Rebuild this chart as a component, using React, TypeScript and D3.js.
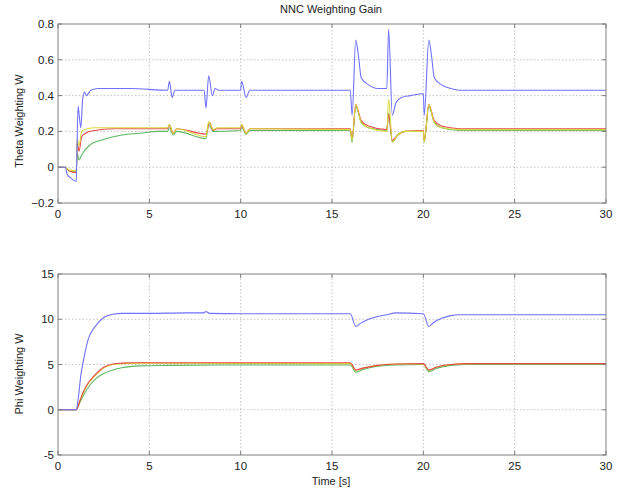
import React from "react";
import * as d3 from "d3";

type P = [number, number];

const xTicks = [0, 5, 10, 15, 20, 25, 30];
const thetaTicks = [-0.2, 0, 0.2, 0.4, 0.6, 0.8];
const phiTicks = [-5, 0, 5, 10, 15];

const thetaBlue: P[] = [
  [0, 0], [0.4, 0], [0.5, -0.04], [0.7, -0.06], [1.0, -0.08], [1.02, 0.0], [1.1, 0.34], [1.15, 0.3], [1.25, 0.22],
  [1.35, 0.38], [1.45, 0.42], [1.55, 0.4], [1.8, 0.43], [2.2, 0.44], [4, 0.44], [6.0, 0.43], [6.1, 0.48],
  [6.25, 0.39], [6.4, 0.43], [8.0, 0.43], [8.1, 0.33], [8.25, 0.51], [8.45, 0.4], [8.6, 0.44], [8.8, 0.43],
  [10.0, 0.43], [10.05, 0.48], [10.3, 0.39], [10.5, 0.43], [16.0, 0.43], [16.1, 0.29], [16.3, 0.71],
  [16.45, 0.62], [16.6, 0.5], [17.0, 0.46], [17.5, 0.44], [18.0, 0.44], [18.1, 0.77], [18.3, 0.29],
  [18.5, 0.36], [18.8, 0.39], [19.3, 0.4], [20.0, 0.41], [20.05, 0.29], [20.3, 0.71], [20.45, 0.62],
  [20.6, 0.5], [21.0, 0.46], [21.5, 0.44], [22.0, 0.43], [30, 0.43]
];
const thetaRed: P[] = [
  [0, 0], [0.4, 0], [0.6, -0.02], [1.0, -0.03], [1.05, 0.14], [1.15, 0.09], [1.3, 0.17], [1.5, 0.19],
  [2.0, 0.205], [3.0, 0.215], [6.0, 0.215], [6.1, 0.235], [6.3, 0.19], [6.5, 0.215], [8.1, 0.185],
  [8.3, 0.25], [8.5, 0.205], [8.7, 0.215], [10.0, 0.215], [10.05, 0.235], [10.3, 0.19], [10.5, 0.215],
  [16.0, 0.215], [16.1, 0.16], [16.3, 0.35], [16.6, 0.26], [17.0, 0.23], [18.0, 0.21], [18.1, 0.3],
  [18.3, 0.15], [18.6, 0.18], [19.0, 0.2], [20.0, 0.205], [20.05, 0.15], [20.3, 0.35], [20.6, 0.26],
  [21.0, 0.23], [21.5, 0.22], [22.0, 0.215], [30, 0.215]
];
const thetaYellow: P[] = [
  [0, 0], [0.4, 0], [0.6, -0.015], [1.0, -0.02], [1.05, 0.16], [1.15, 0.12], [1.3, 0.2], [1.6, 0.215],
  [2.0, 0.22], [6.0, 0.22], [6.1, 0.24], [6.3, 0.19], [6.5, 0.215], [8.1, 0.17], [8.25, 0.255],
  [8.5, 0.21], [8.7, 0.22], [10.0, 0.22], [10.05, 0.24], [10.3, 0.19], [10.5, 0.215], [16.0, 0.21],
  [16.1, 0.15], [16.3, 0.35], [16.6, 0.25], [17.0, 0.22], [18.0, 0.2], [18.1, 0.38], [18.3, 0.14],
  [18.6, 0.18], [19.0, 0.2], [20.0, 0.2], [20.05, 0.14], [20.3, 0.35], [20.6, 0.25], [21.0, 0.22],
  [22.0, 0.21], [30, 0.21]
];
const thetaGreen: P[] = [
  [0, 0], [0.4, 0], [0.6, -0.02], [1.0, -0.025], [1.05, 0.08], [1.15, 0.04], [1.3, 0.07], [1.7, 0.12],
  [2.5, 0.155], [3.5, 0.18], [4.5, 0.19], [5.5, 0.2], [6.0, 0.2], [6.1, 0.22], [6.3, 0.18], [6.5, 0.2],
  [8.1, 0.16], [8.25, 0.24], [8.5, 0.2], [10.0, 0.205], [10.05, 0.225], [10.3, 0.185], [10.5, 0.205],
  [16.0, 0.205], [16.1, 0.14], [16.3, 0.34], [16.6, 0.25], [17.0, 0.22], [18.0, 0.205], [18.1, 0.3],
  [18.3, 0.14], [18.6, 0.18], [19.0, 0.2], [20.0, 0.2], [20.05, 0.14], [20.3, 0.34], [20.6, 0.25],
  [21.0, 0.22], [22.0, 0.205], [30, 0.205]
];

const phiBlue: P[] = [
  [0, 0], [1.0, 0], [1.1, 1.1], [1.25, 3.8], [1.37, 5.2], [1.5, 6.5], [1.64, 7.7], [2.0, 9.1], [2.5, 10.2],
  [3.0, 10.55], [3.5, 10.65], [5, 10.65], [7, 10.7], [8.0, 10.7], [8.1, 10.85], [8.3, 10.65], [10, 10.6],
  [16.0, 10.6], [16.3, 9.2], [16.6, 9.6], [17.0, 10.0], [17.5, 10.3], [18.0, 10.5], [18.5, 10.7],
  [20.0, 10.6], [20.3, 9.2], [20.6, 9.7], [21.0, 10.1], [21.5, 10.4], [22.0, 10.5], [30, 10.5]
];
const phiRed: P[] = [
  [0, 0], [1.0, 0], [1.2, 1.0], [1.37, 1.9], [1.6, 2.8], [2.0, 3.8], [2.5, 4.7], [3.0, 5.05], [3.5, 5.15],
  [4.0, 5.2], [16.0, 5.2], [16.3, 4.4], [16.7, 4.6], [17.5, 4.9], [18.5, 5.05], [20.0, 5.1], [20.3, 4.4],
  [20.7, 4.7], [21.5, 5.0], [22.5, 5.1], [30, 5.1]
];
const phiYellow: P[] = [
  [0, 0], [1.0, 0], [1.2, 1.0], [1.37, 1.8], [1.6, 2.7], [2.0, 3.7], [2.5, 4.6], [3.0, 5.0], [3.5, 5.1],
  [4.5, 5.15], [16.0, 5.1], [16.3, 4.35], [16.7, 4.6], [17.5, 4.9], [18.5, 5.05], [20.0, 5.05],
  [20.3, 4.35], [20.7, 4.7], [21.5, 5.0], [22.5, 5.1], [30, 5.1]
];
const phiGreen: P[] = [
  [0, 0], [1.0, 0], [1.2, 0.8], [1.37, 1.5], [1.6, 2.3], [2.0, 3.3], [2.5, 4.0], [3.0, 4.4], [3.5, 4.65],
  [4.5, 4.85], [6, 4.9], [10, 4.95], [16.0, 4.95], [16.3, 4.15], [16.7, 4.45], [17.5, 4.8], [18.5, 4.95],
  [20.0, 5.0], [20.3, 4.2], [20.7, 4.55], [21.5, 4.9], [22.5, 5.0], [30, 5.0]
];

const W = 625;
const H = 493;
const left = 58;
const right = 606;
const font = "Liberation Sans, Arial, sans-serif";

const x = d3.scaleLinear().domain([0, 30]).range([left, right]);
const yTop = d3.scaleLinear().domain([-0.2, 0.8]).range([203, 24]);
const yBot = d3.scaleLinear().domain([-5, 15]).range([455, 274]);

const colors = { blue: "#7070ff", red: "#e84848", yellow: "#d8d840", green: "#5cb860" };

function Panel({ y, ticks, series, label, labelY, fmt, id }: {
  y: d3.ScaleLinear<number, number>; ticks: number[]; series: [P[], string][]; label: string; labelY: number;
  fmt: (v: number) => string; id: string;
}) {
  const [y0, y1] = y.range();
  const line = d3.line<P>().x(d => x(d[0])).y(d => y(d[1])).curve(d3.curveMonotoneX);
  return (
    <g>
      <rect x={left} y={y1} width={right - left} height={y0 - y1} fill="#fff" />
      <defs>
        <clipPath id={id}>
          <rect x={left} y={y1} width={right - left} height={y0 - y1} />
        </clipPath>
      </defs>
      {xTicks.slice(1, -1).map(t => (
        <line key={"gx" + t} x1={x(t)} x2={x(t)} y1={y0} y2={y1} stroke="#c4c4c4" strokeWidth={1} strokeDasharray="1.5,2" />
      ))}
      {ticks.slice(1, -1).map(t => (
        <line key={"gy" + t} x1={left} x2={right} y1={y(t)} y2={y(t)} stroke="#c4c4c4" strokeWidth={1} strokeDasharray="1.5,2" />
      ))}
      <g clipPath={`url(#${id})`}>
        {series.map(([d, c], i) => (
          <path key={i} d={line(d) || ""} fill="none" stroke={c} strokeWidth={1.1} strokeLinejoin="round" />
        ))}
      </g>
      <rect x={left} y={y1} width={right - left} height={y0 - y1} fill="none" stroke="#808080" strokeWidth={1} />
      {xTicks.map(t => (
        <g key={"tx" + t}>
          <line x1={x(t)} x2={x(t)} y1={y0} y2={y0 - 4} stroke="#808080" />
          <line x1={x(t)} x2={x(t)} y1={y1} y2={y1 + 4} stroke="#808080" />
          <text x={x(t)} y={y0 + 15} textAnchor="middle" fontSize={11.5} fontFamily={font} fill="#222">{t}</text>
        </g>
      ))}
      {ticks.map(t => (
        <g key={"ty" + t}>
          <line x1={left} x2={left + 4} y1={y(t)} y2={y(t)} stroke="#808080" />
          <line x1={right} x2={right - 4} y1={y(t)} y2={y(t)} stroke="#808080" />
          <text x={left - 4} y={y(t) + 4} textAnchor="end" fontSize={11.5} fontFamily={font} fill="#222">{fmt(t)}</text>
        </g>
      ))}
      <text transform={`translate(23,${labelY}) rotate(-90)`} textAnchor="middle" fontSize={11} fontFamily={font} fill="#222">{label}</text>
    </g>
  );
}

export default function App() {
  const fmtTop = (v: number) => (Math.abs(v) < 1e-9 ? "0" : d3.format(".1f")(v));
  const fmtBot = (v: number) => String(v);
  return (
    <svg width={W} height={H} style={{ position: "absolute", left: 0, top: 0, background: "#fff" }}>
      <rect width={W} height={H} fill="#fff" />
      <text x={331} y={13} textAnchor="middle" fontSize={11} fontFamily={font} fill="#222">NNC Weighting Gain</text>
      <Panel id="clipTop" y={yTop} ticks={thetaTicks} label="Theta Weighting W" labelY={121} fmt={fmtTop}
        series={[[thetaGreen, colors.green], [thetaRed, colors.red], [thetaYellow, colors.yellow], [thetaBlue, colors.blue]]} />
      <Panel id="clipBot" y={yBot} ticks={phiTicks} label="Phi Weighting W" labelY={374} fmt={fmtBot}
        series={[[phiGreen, colors.green], [phiYellow, colors.yellow], [phiRed, colors.red], [phiBlue, colors.blue]]} />
      <text x={331} y={485} textAnchor="middle" fontSize={11} fontFamily={font} fill="#222">Time [s]</text>
    </svg>
  );
}
